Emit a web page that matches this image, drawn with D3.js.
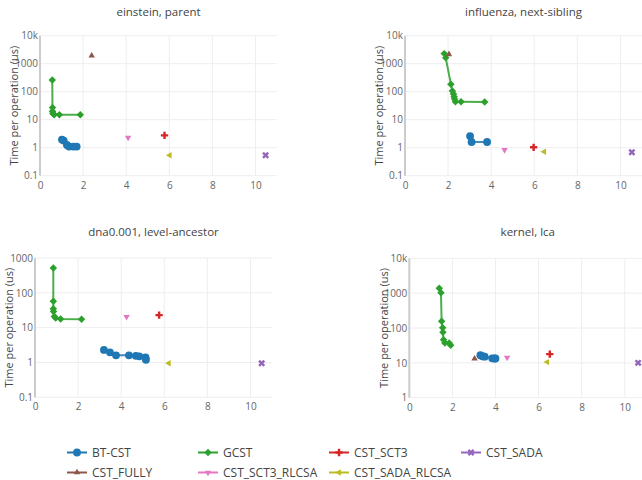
<!DOCTYPE html>
<html><head><meta charset="utf-8">
<script src="https://cdn.jsdelivr.net/npm/d3@7"></script>
<style>body{margin:0;background:#fff}svg{display:block}</style>
</head><body>
<script>
// ---------- data ----------
const seriesNames = ["BT-CST","GCST","CST_SCT3","CST_SADA","CST_FULLY","CST_SCT3_RLCSA","CST_SADA_RLCSA"];
const seriesColors = ["#1f77b4","#2ca02c","#d62728","#9467bd","#8c564b","#e377c2","#bcbd22"];
const panelTitles = ["einstein, parent","influenza, next-sibling","dna0.001, level-ancestor","kernel, lca"];
const xTicks = [0,2,4,6,8,10];
const yTicksA = [0.1,1,10,100,1000,10000];
const yTicksB = [0.1,1,10,100,1000];
const yTicksC = [1,10,100,1000,10000];

// einstein, parent
const einBT = [[1.02,1.95],[1.1,1.8],[1.25,1.25],[1.35,1.1],[1.55,1.1],[1.7,1.1]];
const einGCST = [[0.57,263],[0.58,27],[0.58,20],[0.6,17],[0.62,16],[0.66,15],[0.9,15],[1.87,15]];
const einSCT3 = [[5.78,2.75]];
const einSADA = [[10.47,0.54]];
const einFULLY = [[2.4,1940]];
const einSCT3R = [[4.09,2.3]];
const einSADAR = [[6.02,0.54]];

// influenza, next-sibling
const infBT = [[3.02,2.6],[3.09,1.6],[3.81,1.6]];
const infGCST = [[1.82,2290],[1.89,1630],[2.13,186],[2.2,107],[2.25,83],[2.28,66],[2.3,55],[2.34,44],[2.6,44],[3.7,43]];
const infSCT3 = [[5.97,1.03]];
const infSADA = [[10.53,0.69]];
const infFULLY = [[2.04,2170]];
const infSCT3R = [[4.62,0.83]];
const infSADAR = [[6.46,0.72]];

// dna0.001, level-ancestor
const dnaBT = [[3.2,2.3],[3.48,1.95],[3.76,1.6],[4.36,1.6],[4.68,1.55],[4.84,1.5],[5.13,1.4],[5.15,1.2]];
const dnaGCST = [[0.85,520],[0.85,57],[0.85,35],[0.86,29],[0.9,21],[0.96,19],[1.19,17.8],[2.16,17.5]];
const dnaSCT3 = [[5.76,22.9]];
const dnaSADA = [[10.52,0.95]];
const dnaFULLY = [];
const dnaSCT3R = [[4.25,20.5]];
const dnaSADAR = [[6.21,0.95]];

// kernel, lca
const kerBT = [[3.3,16.5],[3.4,15.5],[3.5,15],[3.85,13.5],[3.95,13.3],[4.0,13.3]];
const kerGCST = [[1.39,1380],[1.47,1020],[1.5,155],[1.55,102],[1.56,76],[1.59,46],[1.65,37],[1.85,37],[1.92,32]];
const kerSCT3 = [[6.52,17.8]];
const kerSADA = [[10.62,10]];
const kerFULLY = [[3.03,13.2]];
const kerSCT3R = [[4.54,14.2]];
const kerSADAR = [[6.4,10.5]];

// ---------- layout ----------
const W = 642, H = 480;
const layout = [
  {x0:40, x1:277, yT:35.7, yB:175.7, yDom:[0.1,10000], ticks:yTicksA, ttlX:13, titleY:16,
   series:[einBT,einGCST,einSCT3,einSADA,einFULLY,einSCT3R,einSADAR]},
  {x0:405, x1:642, yT:35.7, yB:175.7, yDom:[0.1,10000], ticks:yTicksA, ttlX:378, titleY:16,
   series:[infBT,infGCST,infSCT3,infSADA,infFULLY,infSCT3R,infSADAR]},
  {x0:35, x1:272, yT:258, yB:397.3, yDom:[0.1,1000], ticks:yTicksB, ttlX:8, titleY:236,
   series:[dnaBT,dnaGCST,dnaSCT3,dnaSADA,dnaFULLY,dnaSCT3R,dnaSADAR]},
  {x0:409.3, x1:646.3, yT:258.3, yB:397.7, yDom:[1,10000], ticks:yTicksC, ttlX:383, titleY:236,
   series:[kerBT,kerGCST,kerSCT3,kerSADA,kerFULLY,kerSCT3R,kerSADAR]}
];

const font = "'Open Sans', sans-serif";
const svg = d3.select("body").append("svg").attr("width",W).attr("height",H)
  .style("font-family", font);

function fmtY(v){ return v>=10000 ? (v/1000)+"k" : String(v); }

function markerPath(i){
  const s = d3.symbol();
  switch(i){
    case 0: return {d:s.type(d3.symbolCircle).size(48)(), rot:0};
    case 1: return {d:s.type(d3.symbolSquare).size(28)(), rot:45};
    case 2: return {d:s.type(d3.symbolCross).size(30)(), rot:0};
    case 3: return {d:s.type(d3.symbolCross).size(30)(), rot:45};
    case 4: return {d:s.type(d3.symbolTriangle).size(18)(), rot:0};
    case 5: return {d:s.type(d3.symbolTriangle).size(18)(), rot:180};
    case 6: return {d:s.type(d3.symbolTriangle).size(18)(), rot:-90};
  }
}

layout.forEach((p,pi)=>{
  const x = d3.scaleLinear().domain([0,11]).range([p.x0,p.x1]);
  const y = d3.scaleLog().domain(p.yDom).range([p.yB,p.yT]);
  const g = svg.append("g");
  const clipId = "clip"+pi;
  svg.append("clipPath").attr("id",clipId).append("rect")
    .attr("x",p.x0).attr("y",p.yT-6).attr("width",p.x1-p.x0+6).attr("height",p.yB-p.yT+12);

  // grid
  g.selectAll(".gx").data(xTicks.filter(t=>t>0)).join("line")
    .attr("x1",d=>x(d)).attr("x2",d=>x(d)).attr("y1",p.yT).attr("y2",p.yB)
    .attr("stroke","#eeeeee").attr("stroke-width",1);
  g.selectAll(".gy").data(p.ticks).join("line")
    .attr("x1",p.x0).attr("x2",p.x1).attr("y1",d=>y(d)).attr("y2",d=>y(d))
    .attr("stroke","#eeeeee").attr("stroke-width",1);
  // zero line
  g.append("line").attr("x1",x(0)).attr("x2",x(0)).attr("y1",p.yT).attr("y2",p.yB)
    .attr("stroke","#cccccc").attr("stroke-width",2);

  // axes via d3
  const xa = g.append("g").attr("transform",`translate(0,${p.yB})`)
    .call(d3.axisBottom(x).tickValues(xTicks).tickSize(0).tickPadding(6).tickFormat(d3.format("d")));
  xa.select(".domain").remove();
  xa.selectAll("text").attr("fill","#666").style("font-size","10px").style("font-family",font);
  const ya = g.append("g").attr("transform",`translate(${p.x0},0)`)
    .call(d3.axisLeft(y).tickValues(p.ticks).tickSize(0).tickPadding(2).tickFormat(fmtY));
  ya.select(".domain").remove();
  ya.selectAll("text").attr("fill","#666").style("font-size","10px").style("font-family",font);

  // axis title
  g.append("text").attr("transform",`translate(${p.ttlX},${(p.yT+p.yB)/2}) rotate(-90)`)
    .attr("text-anchor","middle").attr("dominant-baseline","central")
    .attr("fill","#444").style("font-size","11px").text("Time per operation (us)");
  // panel title
  g.append("text").attr("x",(p.x0+p.x1)/2).attr("y",p.titleY).attr("text-anchor","middle")
    .attr("fill","#444").style("font-size","11.5px").text(panelTitles[pi]);

  // series
  const line = d3.line().x(d=>x(d[0])).y(d=>y(d[1]));
  const sg = svg.append("g").attr("clip-path",`url(#${clipId})`);
  p.series.forEach((pts,si)=>{
    if(!pts.length) return;
    if(pts.length>1){
      sg.append("path").datum(pts).attr("d",line).attr("fill","none")
        .attr("stroke",seriesColors[si]).attr("stroke-width",2).attr("stroke-opacity",0.85);
    }
    const m = markerPath(si);
    sg.selectAll(null).data(pts).join("path").attr("d",m.d)
      .attr("transform",d=>`translate(${x(d[0])},${y(d[1])}) rotate(${m.rot})`)
      .attr("fill",seriesColors[si]);
  });
});

// legend
const legX = [67,198,329,461];
const legY = [452.5,472.5];
seriesNames.forEach((name,i)=>{
  const col = i%4, row = Math.floor(i/4);
  const lx = legX[col], ly = legY[row];
  const lg = svg.append("g").attr("transform",`translate(${lx},${ly})`);
  lg.append("line").attr("x1",0).attr("x2",20).attr("y1",0).attr("y2",0)
    .attr("stroke",seriesColors[i]).attr("stroke-width",2);
  const m = markerPath(i);
  lg.append("path").attr("d",m.d).attr("transform",`translate(10,0) rotate(${m.rot})`)
    .attr("fill",seriesColors[i]);
  lg.append("text").attr("x",25).attr("y",0).attr("dominant-baseline","central")
    .attr("fill","#444").style("font-size","12px").text(name);
});
</script>
</body></html>
